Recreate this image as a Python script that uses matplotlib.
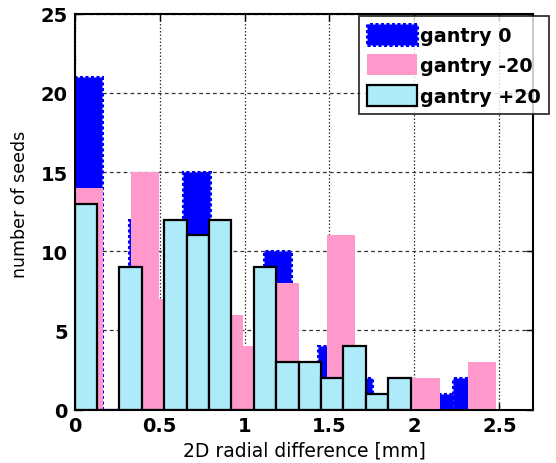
import numpy as np
import matplotlib
matplotlib.use("Agg")
import matplotlib.pyplot as plt

# Histogram counts per bin (15 equal-width bins each, starting at 0 mm)
labels = ["gantry 0", "gantry -20", "gantry +20"]
g0_counts = [21, 0, 12, 5, 15, 4, 2, 10, 2, 4, 2, 0, 1, 1, 2]
g0_range = (0.0, 2.385)
gm20_counts = [14, 0, 15, 7, 8, 6, 4, 8, 2, 11, 1, 0, 2, 0, 3]
gm20_range = (0.0, 2.479)
gp20_counts = [13, 0, 9, 0, 12, 11, 12, 0, 9, 3, 3, 2, 4, 1, 2]
gp20_range = (0.0, 1.978)

x_ticks = [0, 0.5, 1, 1.5, 2, 2.5]
y_ticks = [0, 5, 10, 15, 20, 25]

blue = (0.0, 0.0, 1.0)
pink = (1.0, 0.6, 0.8)
cyan = (0.68, 0.92, 0.98)

W, H = 556, 464
fig = plt.figure(figsize=(W / 100, H / 100), dpi=100)
ax = fig.add_axes([74.7 / W, 1 - 410.5 / H, (533.3 - 74.7) / W, (410.5 - 14.7) / H])


def draw_hist(counts, rng, **kw):
    edges = np.linspace(rng[0], rng[1], len(counts) + 1)
    widths = np.diff(edges)
    return ax.bar(edges[:-1], counts, width=widths, align="edge", **kw)


draw_hist(g0_counts, g0_range, color=blue, edgecolor=blue, linewidth=2.2,
          linestyle=(0, (1, 0.8)), label=labels[0], zorder=2)
draw_hist(gm20_counts, gm20_range, color=pink, linewidth=0,
          label=labels[1], zorder=3)
draw_hist(gp20_counts, gp20_range, color=cyan, edgecolor="black", linewidth=1.6,
          label=labels[2], zorder=4)

ax.set_xlim(0, 2.7)
ax.set_ylim(0, 25)
ax.set_xticks(x_ticks)
ax.set_xticklabels([f"{t:g}" for t in x_ticks])
ax.set_yticks(y_ticks)
ax.set_yticklabels([str(t) for t in y_ticks])

ax.set_axisbelow(True)
ax.yaxis.grid(True, color="#333333", linewidth=0.9, linestyle=(0, (3, 2.5)))
ax.xaxis.grid(True, color="#333333", linewidth=0.9, linestyle=(0, (1.2, 1.6)))

for s in ax.spines.values():
    s.set_linewidth(1.5)
    s.set_color("black")
    s.set_zorder(6)

ax.tick_params(direction="in", length=5, width=1, top=True, right=True, pad=5)
for lab in ax.get_xticklabels() + ax.get_yticklabels():
    lab.set_fontfamily("DejaVu Sans")
    lab.set_fontweight("bold")
    lab.set_fontsize(14)

ax.set_xlabel("2D radial difference [mm]", fontsize=13.5, family="DejaVu Sans")
ax.xaxis.set_label_coords(0.5, -0.078)
ax.set_ylabel("number of seeds", fontsize=12.5, family="DejaVu Sans")
ax.yaxis.set_label_coords(-0.10, 0.52)

leg = ax.legend(loc="upper right", bbox_to_anchor=(549.3 / W, 1 - 16.7 / H),
                bbox_transform=fig.transFigure, frameon=True, fancybox=False,
                shadow=False, prop={"family": "DejaVu Sans", "weight": "bold", "size": 13.8},
                handlelength=2.6, handleheight=1.3, handletextpad=0.17,
                labelspacing=0.5, borderpad=0.42, borderaxespad=0)
leg.get_frame().set_edgecolor("black")
leg.get_frame().set_linewidth(1.3)
leg.set_zorder(10)

fig.savefig("out.png", dpi=100)
